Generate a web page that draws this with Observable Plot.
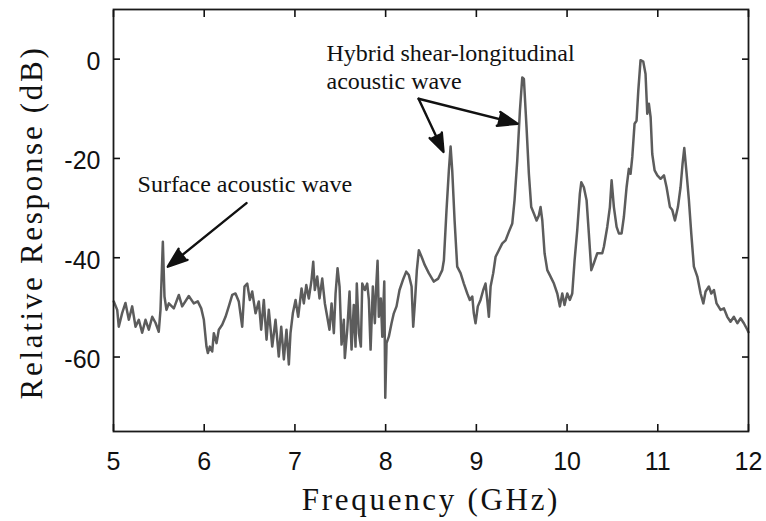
<!DOCTYPE html>
<html><head><meta charset="utf-8">
<script src="https://cdn.jsdelivr.net/npm/d3@7"></script>
<script src="https://cdn.jsdelivr.net/npm/@observablehq/plot@0.6"></script>
<style>body{margin:0;background:#fff}</style>
</head><body><div id="chart"></div>
<script>
const freqGHz = [5.003,5.041,5.058,5.096,5.132,5.169,5.206,5.243,5.279,5.316,5.353,5.389,5.427,5.463,5.499,5.518,5.544,5.562,5.584,5.610,5.665,5.720,5.757,5.830,5.885,5.929,5.967,5.996,6.025,6.040,6.062,6.088,6.106,6.136,6.161,6.198,6.235,6.271,6.309,6.345,6.381,6.419,6.444,6.474,6.503,6.529,6.566,6.602,6.628,6.657,6.687,6.712,6.750,6.786,6.822,6.849,6.878,6.907,6.933,
6.951,6.977,7.007,7.036,7.073,7.098,7.125,7.153,7.183,7.202,7.219,7.246,7.271,7.301,7.330,7.356,7.381,7.404,7.429,7.448,7.470,7.492,7.514,7.539,7.550,7.577,7.602,7.624,7.649,7.668,7.682,7.705,7.727,7.742,7.771,7.797,7.815,7.834,7.859,7.881,7.896,7.911,7.925,7.947,7.963,7.985,7.996,8.010,8.035,8.065,8.090,8.120,8.153,8.190,8.227,8.256,8.286,8.304,8.322,8.344,8.366,8.396,8.432,8.476,8.531,8.580,8.624,8.642,
8.671,8.697,8.716,8.734,8.760,8.789,8.826,8.862,8.900,8.928,8.955,8.972,8.991,9.016,9.046,9.076,9.101,9.120,9.138,9.157,9.186,9.212,9.248,9.286,9.322,9.358,9.396,9.421,9.451,9.480,9.506,9.524,9.553,9.579,9.605,9.634,9.664,9.689,9.708,9.727,9.752,9.782,9.818,9.855,9.892,9.921,9.947,9.972,10.002,10.031,10.057,10.083,10.112,10.141,10.157,10.185,10.215,10.240,10.267,10.295,10.333,10.388,10.406,10.443,10.472,10.491,10.516,10.546,10.571,10.601,10.626,10.656,10.681,10.700,10.719,10.744,10.766,10.785,10.810,10.840,10.865,10.884,10.902,10.921,10.939,10.965,10.995,11.031,11.068,11.097,11.134,11.160,11.189,11.222,11.251,11.273,11.292,11.318,11.343,11.369,11.398,11.436,11.472,11.502,11.527,11.563,11.590,11.619,11.648,11.692,11.729,11.766,11.802,11.839,11.877,11.913,11.949,11.987,12.000];
const responseDb = [-48.8,-50.5,-53.9,-51.1,-49.1,-52.5,-49.8,-53.9,-52.5,-55.1,-52.5,-54.5,-51.9,-53.1,-54.9,-50.5,-36.8,-47.8,-50.5,-49.2,-50.2,-47.5,-49.8,-47.7,-49.2,-48.8,-50.2,-52.5,-57.9,-59.2,-57.9,-58.9,-55.2,-57.2,-54.5,-53.5,-51.9,-49.8,-47.5,-47.2,-48.8,-53.9,-45.8,-45.2,-48.5,-46.8,-51.2,-48.8,-54.5,-48.5,-56.5,-50.5,-57.9,-52.5,-59.9,-53.9,-60.5,-54.5,-61.5,
-55.2,-51.2,-48.5,-51.9,-46.2,-49.2,-45.5,-48.2,-44.5,-40.8,-46.5,-43.8,-48.2,-44.2,-49.2,-51.9,-54.5,-49.2,-55.2,-47.2,-42.1,-45.8,-57.5,-52.5,-60.2,-54.5,-46.8,-58.5,-49.5,-57.9,-45.2,-55.2,-57.9,-45.2,-46.5,-45.2,-48.5,-58.5,-45.8,-53.2,-45.8,-40.6,-51.9,-48.2,-55.9,-44.8,-68.2,-57.2,-55.9,-53.2,-51.2,-49.8,-46.5,-44.5,-42.8,-43.5,-45.8,-53.9,-49.2,-42.5,-38.5,-39.8,-41.5,-43.1,-44.8,-44.2,-42.5,-40.5,
-30.4,-22.4,-17.6,-22.4,-32.5,-41.8,-43.1,-45.2,-47.2,-48.5,-47.8,-51.2,-53.2,-49.8,-48.5,-46.5,-45.2,-48.5,-51.9,-45.8,-43.1,-39.8,-38.5,-37.1,-36.5,-34.8,-33.1,-28.4,-20.4,-10.4,-3.7,-4.0,-13.7,-23.1,-29.8,-31.1,-32.5,-31.5,-29.8,-32.5,-39.1,-42.5,-43.8,-45.2,-47.2,-49.8,-47.2,-49.5,-47.2,-48.5,-47.2,-40.5,-34.5,-27.1,-24.8,-25.8,-28.4,-35.1,-42.5,-41.1,-39.1,-39.1,-37.8,-33.8,-29.8,-24.4,-29.8,-33.8,-35.1,-35.1,-31.8,-25.8,-22.1,-23.1,-19.7,-13.0,-12.4,-6.4,-0.2,-0.5,-3.0,-11.0,-9.0,-11.7,-19.1,-22.4,-23.4,-24.1,-23.4,-25.8,-29.8,-30.4,-32.5,-29.8,-25.8,-21.1,-17.9,-23.1,-28.4,-35.1,-41.8,-43.8,-47.2,-49.2,-46.8,-45.8,-47.2,-46.5,-49.2,-50.5,-50.2,-51.9,-52.9,-51.9,-53.2,-52.2,-53.2,-54.5,-55.0];

const xTicks = [5, 6, 7, 8, 9, 10, 11, 12];
const yTicks = [-60, -40, -20, 0];
const xLabel = "Frequency (GHz)";
const yLabel = "Relative Response (dB)";

const noteText = ["Surface acoustic wave", "Hybrid shear-longitudinal", "acoustic wave"];
const noteX = [5.265, 7.348, 7.348];
const noteY = [-25.3, 1.2, -4.4];

const arrowX1 = [6.466, 8.363, 8.363];
const arrowY1 = [-29.0, -7.97, -7.97];
const arrowX2 = [5.599, 8.638, 9.454];
const arrowY2 = [-41.8, -18.7, -13.0];

const n = Math.min(freqGHz.length, responseDb.length);
const data = d3.range(n).map(i => ({f: freqGHz[i], db: responseDb[i]}));
const notes = noteText.map((t, i) => ({t, x: noteX[i], y: noteY[i]}));
const arrows = arrowX1.map((x1, i) => ({x1, y1: arrowY1[i], x2: arrowX2[i], y2: arrowY2[i]}));

const chart = Plot.plot({
  width: 766,
  height: 521,
  marginLeft: 113,
  marginRight: 18,
  marginTop: 9,
  marginBottom: 90,
  style: {fontFamily: "Liberation Sans, Arial, sans-serif", fontSize: "25px", color: "#111", background: "#fff"},
  x: {domain: [5, 12], label: null},
  y: {domain: [-75, 10], label: null},
  marks: [
    Plot.line(data, {x: "f", y: "db", stroke: "#5c5c5c", strokeWidth: 2.5, strokeLinejoin: "round"}),
    Plot.frame({stroke: "#1a1a1a", strokeWidth: 1.8}),
    Plot.axisX(xTicks, {anchor: "bottom", tickSize: 0, tickPadding: 21, fontSize: 25, tickFormat: d => String(d), label: null}),
    Plot.axisX(xTicks, {anchor: "bottom", tickSize: 7, dy: -7, fill: "none", strokeWidth: 1.6, label: null}),
    Plot.axisX(xTicks, {anchor: "top", tickSize: 7, dy: 7, fill: "none", strokeWidth: 1.6, label: null}),
    Plot.axisY(yTicks, {anchor: "left", tickSize: 0, tickPadding: 13, dy: 3, fontSize: 25, tickFormat: d => String(d), label: null}),
    Plot.axisY(yTicks, {anchor: "left", tickSize: 7, dx: 7, fill: "none", strokeWidth: 1.6, label: null}),
    Plot.axisY(yTicks, {anchor: "right", tickSize: 7, dx: -7, fill: "none", strokeWidth: 1.6, label: null}),
    Plot.text([xLabel], {text: d => d, frameAnchor: "bottom", textAnchor: "middle", lineAnchor: "middle", dy: 69, fontFamily: "Liberation Serif, serif", fontSize: 31, fill: "#111"}),
    Plot.text([yLabel], {text: d => d, frameAnchor: "left", textAnchor: "middle", lineAnchor: "middle", rotate: -90, dx: -81, dy: 2, fontFamily: "Liberation Serif, serif", fontSize: 31, fill: "#111"}),
    Plot.text(notes, {x: "x", y: "y", text: "t", textAnchor: "start", lineAnchor: "middle", fontFamily: "Liberation Serif, serif", fontSize: 24, fill: "#111"}),
    Plot.arrow(arrows, {x1: "x1", y1: "y1", x2: "x2", y2: "y2", stroke: "#111", strokeWidth: 2.4, headLength: 13, headAngle: 40})
  ]
});

chart.querySelectorAll("text").forEach(t => {
  if (t.textContent === xLabel || t.textContent === yLabel) t.style.letterSpacing = "2.7px";
});
chart.querySelectorAll('g[aria-label="arrow"] path').forEach(p => p.setAttribute("fill", "#111"));
document.getElementById("chart").appendChild(chart);
</script>
</body></html>
